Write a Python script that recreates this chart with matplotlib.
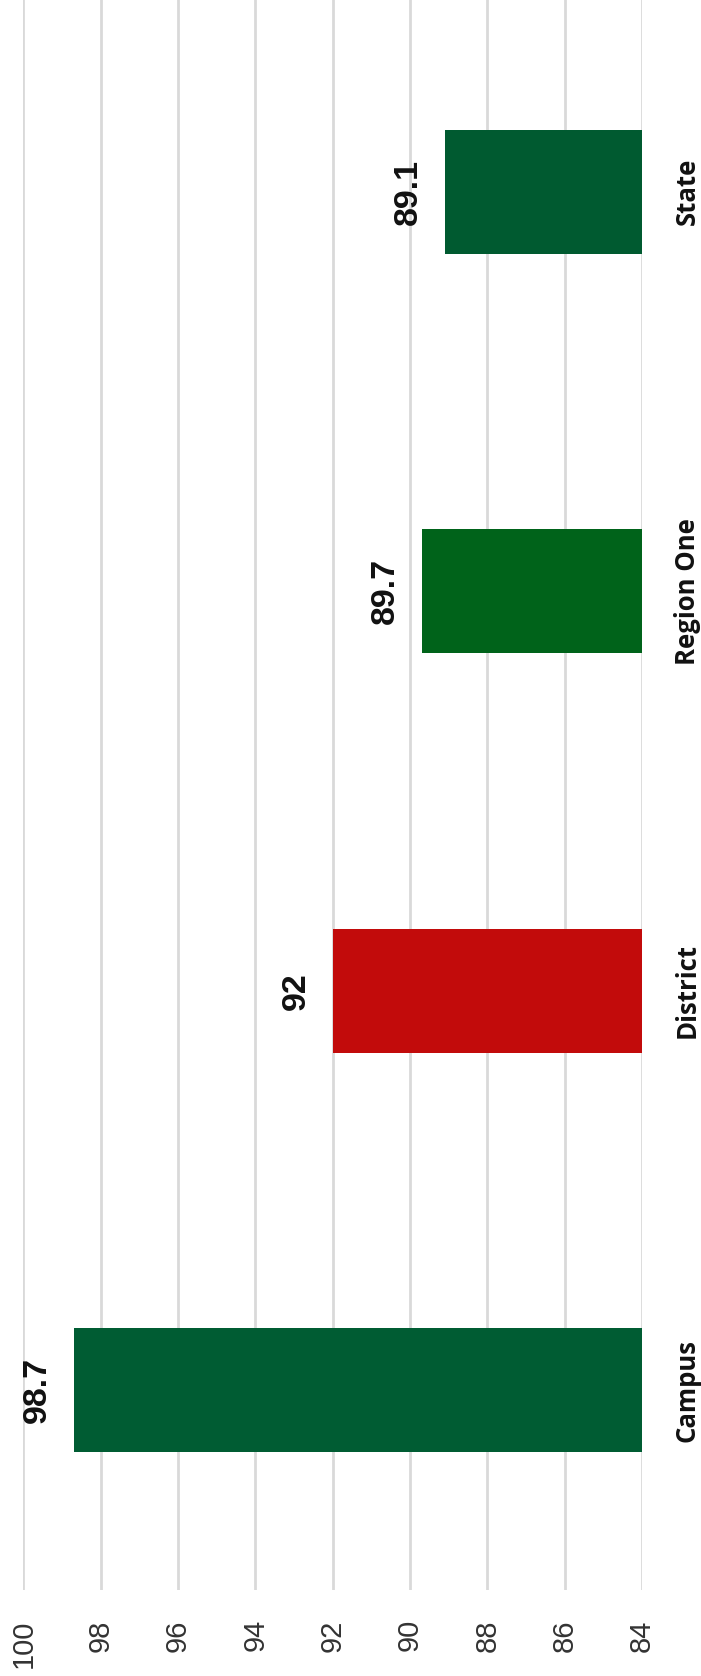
import matplotlib
matplotlib.use("Agg")
import matplotlib.pyplot as plt
import numpy as np

# 数据（原图是竖向柱状图，扫描后逆时针旋转了90度）
categories = ["Campus", "District", "Region One", "State"]
values = [98.7, 92, 89.7, 89.1]
bar_colors = ["#005C33", "#C20B0B", "#00631A", "#005A30"]
ticks = list(range(84, 101, 2))

plt.rcParams["font.family"] = ["Liberation Sans", "DejaVu Sans"]

fig = plt.figure(figsize=(7.01, 16.76), dpi=100)
ax = fig.add_axes([0.0335, 0.0513, 0.8823, 0.9535])

pos = np.arange(len(categories))
ax.barh(pos, [v - 84 for v in values], left=84, height=0.31,
        color=bar_colors, zorder=3)

# 数值标签
for p, v in zip(pos, values):
    ax.annotate(f"{v:g}", xy=(v, p), xytext=(-15, 0), textcoords="offset points",
                rotation=90, ha="right", va="center", fontsize=24.5,
                fontweight="bold", color="#111111")

ax.set_xlim(100, 84)
ax.set_ylim(-0.5, 3.5)
ax.set_xticks(ticks)
ax.set_xticklabels([str(t) for t in ticks], rotation=90, fontsize=21,
                   color="#333333", va="top")
ax.tick_params(axis="x", length=0, pad=21)

ax.yaxis.tick_right()
ax.set_yticks(pos)
ax.set_yticklabels(categories, rotation=90, va="center", ha="left",
                   fontsize=18.5, fontweight="bold",
                   family=["Open Sans", "DejaVu Sans"], color="#111111")
ax.tick_params(axis="y", length=0, pad=23)

ax.grid(axis="x", color="#d9d9d9", linewidth=2, zorder=0)
ax.grid(axis="y", visible=False)
for s in ax.spines.values():
    s.set_visible(False)

fig.savefig("out.png", dpi=100)
